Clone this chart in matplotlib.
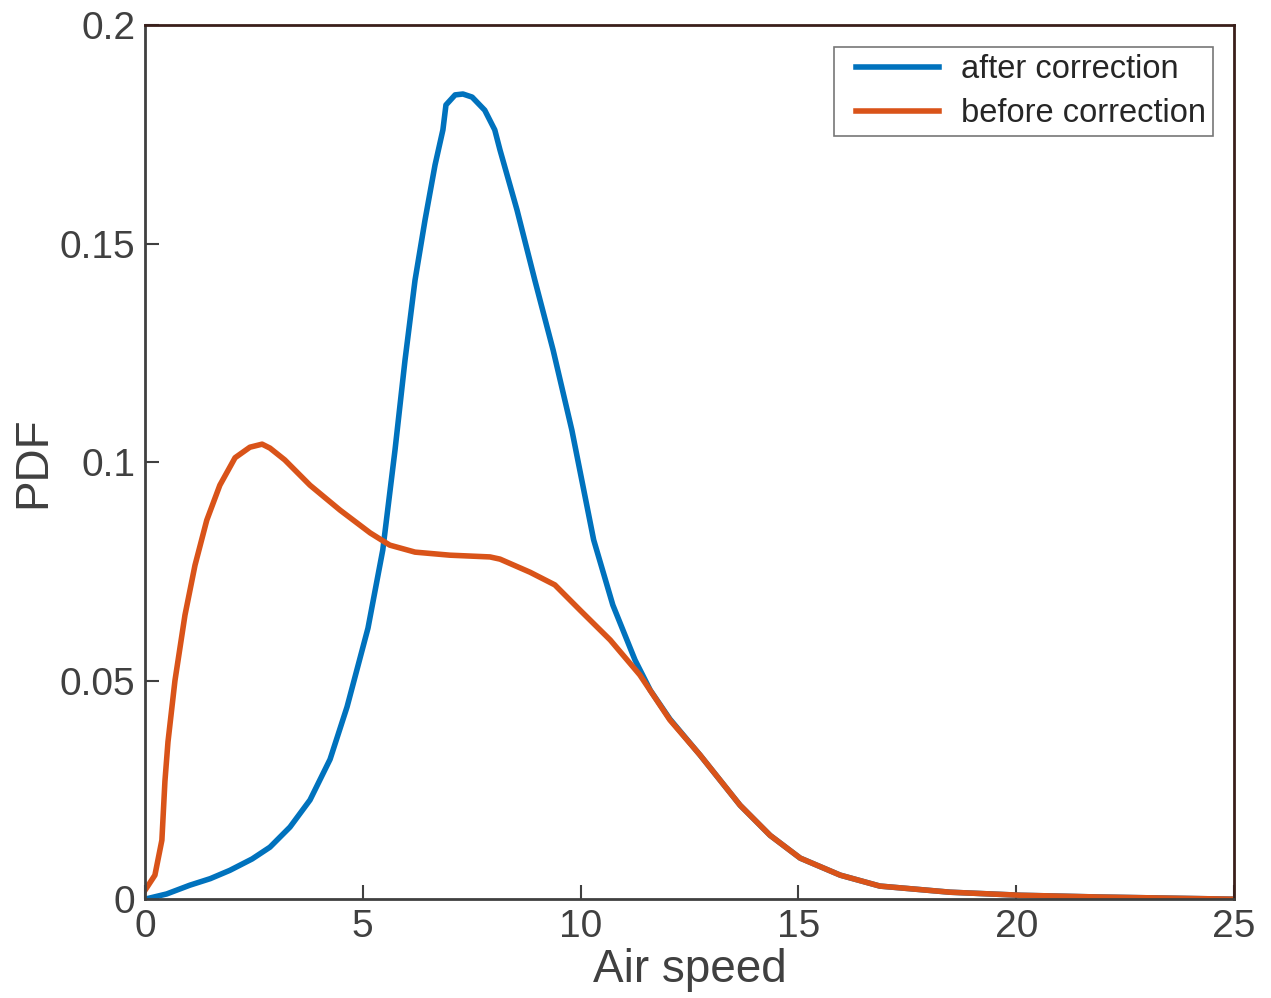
import matplotlib
matplotlib.use('Agg')
import matplotlib.pyplot as plt
from matplotlib.legend_handler import HandlerLine2D
from matplotlib.lines import Line2D

# air speed PDF, after and before correction
x_after = [0, 0.5, 1.03, 1.5, 1.95, 2.46, 2.87, 3.33, 3.79, 4.25, 4.64, 5.12, 5.46, 5.74,
           5.97, 6.2, 6.43, 6.66, 6.84, 6.91, 7.12, 7.3, 7.51, 7.8, 8.03, 8.15, 8.54,
           8.95, 9.37, 9.8, 10.3, 10.74, 11.25, 11.6, 12.05, 12.74, 13.66, 14.35,
           15.04, 15.96, 16.87, 18.48, 20.1, 21.9, 25]
pdf_after = [0, 0.0012, 0.0032, 0.0047, 0.0066, 0.0092, 0.0119, 0.0165, 0.0227, 0.032,
             0.044, 0.062, 0.0799, 0.1027, 0.1233, 0.1416, 0.1554, 0.168, 0.176, 0.1817,
             0.184, 0.1842, 0.1835, 0.1805, 0.176, 0.1714, 0.1577, 0.1416, 0.1256,
             0.1073, 0.0822, 0.0673, 0.0547, 0.0478, 0.0412, 0.033, 0.0215, 0.0146,
             0.0094, 0.0055, 0.003, 0.0016, 0.0009, 0.0005, 0]

x_before = [0, 0.23, 0.39, 0.46, 0.53, 0.69, 0.92, 1.15, 1.42, 1.72, 2.07, 2.41, 2.69,
            2.87, 3.21, 3.79, 4.48, 5.17, 5.62, 6.2, 7.0, 7.92, 8.15, 8.84, 9.41, 9.99,
            10.68, 11.36, 12.05, 12.74, 13.66, 14.35, 15.04, 15.96, 16.87, 18.48, 20.1,
            21.9, 25]
pdf_before = [0.002, 0.0055, 0.0135, 0.027, 0.036, 0.05, 0.065, 0.0764, 0.0867, 0.0947,
              0.101, 0.1034, 0.1041, 0.1032, 0.1005, 0.0947, 0.089, 0.0838, 0.081,
              0.0794, 0.0787, 0.0783, 0.0778, 0.0748, 0.0719, 0.0661, 0.0593, 0.0513,
              0.041, 0.033, 0.0215, 0.0146, 0.0094, 0.0055, 0.003, 0.0016, 0.0009,
              0.0005, 0]

plt.rcParams['font.family'] = ['Liberation Sans', 'DejaVu Sans']

fig = plt.figure(figsize=(12.71, 9.98), dpi=100)
ax = fig.add_axes([0.114, 0.099, 0.857, 0.876])

ax.plot(x_after, pdf_after, color='#0072BD', lw=4, label='after correction',
        solid_joinstyle='round')
ax.plot(x_before, pdf_before, color='#D95319', lw=4, label='before correction',
        solid_joinstyle='round')

ax.set_xlim(0, 25)
ax.set_ylim(0, 0.2)
ax.set_xticks([0, 5, 10, 15, 20, 25])
ax.set_xticklabels(['0', '5', '10', '15', '20', '25'])
ax.set_yticks([0, 0.05, 0.1, 0.15, 0.2])
ax.set_yticklabels(['0', '0.05', '0.1', '0.15', '0.2'])
ax.tick_params(direction='in', length=10, width=1.5, labelsize=28,
               colors='#404040', pad=7, top=False, right=False)

for s in ['left', 'bottom']:
    ax.spines[s].set_color('#404040')
    ax.spines[s].set_linewidth(2)
for s in ['top', 'right']:
    ax.spines[s].set_color('#3a1f1a')
    ax.spines[s].set_linewidth(2)

ax.set_xlabel('Air speed', fontsize=33, color='#404040', labelpad=2)
ax.set_ylabel('PDF', fontsize=33, color='#404040', labelpad=3)

# extra room left of the legend handles
leg = ax.legend(loc='upper right', fontsize=23.5, frameon=True, fancybox=False,
                edgecolor='#555555', handlelength=2.98, borderpad=0.22,
                labelspacing=0.4, handletextpad=0.67, borderaxespad=0,
                bbox_to_anchor=(0.9805, 0.975),
                handler_map={Line2D: HandlerLine2D(xpad=0.43)})
leg.get_frame().set_linewidth(1.2)
for t in leg.get_texts():
    t.set_color('#262626')

fig.savefig('out.png', dpi=100)
